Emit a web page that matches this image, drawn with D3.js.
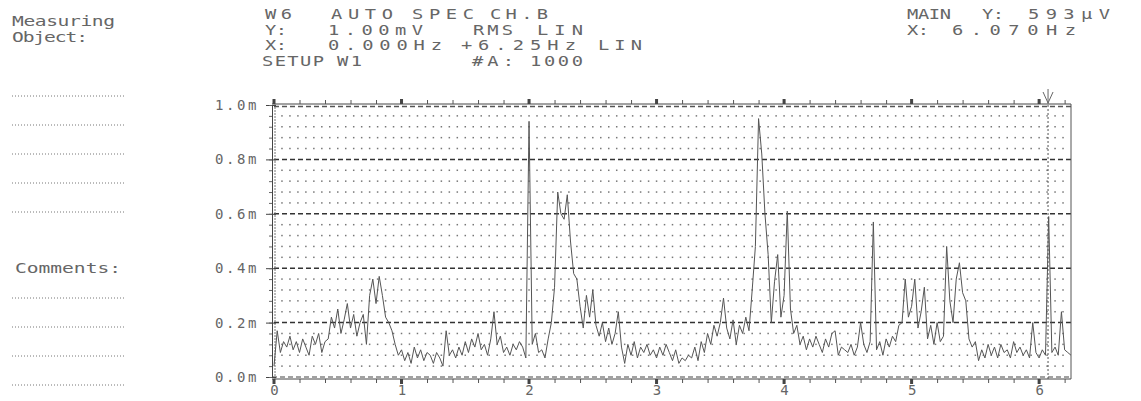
<!DOCTYPE html>
<html>
<head>
<meta charset="utf-8">
<script src="https://cdn.jsdelivr.net/npm/d3@7"></script>
<style>
  body { margin: 0; background: #fff; }
  svg { display: block; }
  text { font-family: "DejaVu Sans Mono", monospace; fill: #666; }
</style>
</head>
<body>
<div id="container"></div>
<script>
/* DATA */
// spectrum, one value every 0.025 Hz from 0 to 6.25 Hz (mV rms)
const freqStep = 0.025;
const amplitude = [
  0.04, 0.17, 0.09, 0.13, 0.11, 0.15, 0.10, 0.13, 0.09, 0.14,
  0.11, 0.08, 0.15, 0.12, 0.16, 0.09, 0.13, 0.14, 0.22, 0.18,
  0.25, 0.16, 0.21, 0.27, 0.18, 0.23, 0.15, 0.20, 0.23, 0.12,
  0.30, 0.36, 0.27, 0.37, 0.30, 0.22, 0.20, 0.17, 0.12, 0.08,
  0.10, 0.06, 0.09, 0.05, 0.11, 0.07, 0.10, 0.06, 0.09, 0.08,
  0.05, 0.09, 0.07, 0.04, 0.17, 0.08, 0.10, 0.07, 0.11, 0.08,
  0.13, 0.09, 0.14, 0.11, 0.16, 0.10, 0.12, 0.08, 0.14, 0.24,
  0.12, 0.15, 0.09, 0.11, 0.08, 0.12, 0.10, 0.13, 0.11, 0.07,
  0.94, 0.12, 0.16, 0.09, 0.10, 0.07, 0.14, 0.20, 0.33, 0.68,
  0.60, 0.58, 0.67, 0.50, 0.38, 0.36, 0.26, 0.18, 0.30, 0.22,
  0.32, 0.19, 0.15, 0.20, 0.13, 0.18, 0.12, 0.16, 0.24, 0.11,
  0.05, 0.12, 0.08, 0.13, 0.07, 0.11, 0.09, 0.12, 0.08, 0.10,
  0.07, 0.11, 0.08, 0.12, 0.09, 0.06, 0.10, 0.05, 0.07, 0.06,
  0.08, 0.07, 0.11, 0.06, 0.13, 0.09, 0.16, 0.12, 0.19, 0.15,
  0.20, 0.29, 0.18, 0.14, 0.21, 0.12, 0.19, 0.16, 0.22, 0.17,
  0.32, 0.48, 0.95, 0.82, 0.60, 0.45, 0.20, 0.35, 0.45, 0.22,
  0.30, 0.61, 0.25, 0.16, 0.19, 0.12, 0.15, 0.10, 0.14, 0.11,
  0.15, 0.12, 0.09, 0.14, 0.11, 0.16, 0.17, 0.08, 0.11, 0.10,
  0.09, 0.12, 0.08, 0.11, 0.20, 0.12, 0.09, 0.13, 0.57, 0.10,
  0.13, 0.08, 0.14, 0.11, 0.15, 0.13, 0.19, 0.20, 0.36, 0.22,
  0.26, 0.36, 0.18, 0.24, 0.33, 0.14, 0.19, 0.12, 0.20, 0.13,
  0.15, 0.48, 0.28, 0.20, 0.36, 0.42, 0.31, 0.28, 0.14, 0.11,
  0.13, 0.06, 0.10, 0.07, 0.12, 0.08, 0.11, 0.07, 0.12, 0.09,
  0.10, 0.07, 0.13, 0.09, 0.11, 0.08, 0.10, 0.07, 0.20, 0.09,
  0.07, 0.10, 0.08, 0.59, 0.09, 0.11, 0.08, 0.24, 0.10, 0.09,
  0.08
];
const yTicks = [0, 0.2, 0.4, 0.6, 0.8, 1.0];
const xTicks = [0, 1, 2, 3, 4, 5, 6];
const cursorFreq = 6.07;

// printer header, [text, x, span] per word
const headerRows = [
  [["W6", 265, 27], ["AUTO", 331, 62], ["SPEC", 412, 62], ["CH.B", 490, 58]],
  [["Y:", 265, 22], ["1.00mV", 328, 95], ["RMS", 473, 40], ["LIN", 537, 46]],
  [["X:", 265, 22], ["0.000Hz", 328, 114], ["+", 461, 10], ["6.25Hz", 478, 98], ["LIN", 598, 44]],
  [["SETUP", 262, 62], ["W1", 337, 25], ["#A:", 472, 42], ["1000", 530, 53]]
];
const mainRows = [
  [["MAIN", 907, 44], ["Y:", 982, 22], ["593\u00b5V", 1028, 82]],
  [["X:", 907, 22], ["6.070Hz", 952, 124]]
];

/* CONSTANTS */
const W = 1141, H = 401;
const plotL = 274, plotR = 1071, plotT = 105, plotB = 377;
const rowGap = 15.6;
const stretch = 1.4; // wide printer glyphs

const spectrum = amplitude.map((v, i) => ({ f: i * freqStep, v: v }));

const xScale = d3.scaleLinear().domain([0, 6.25]).range([plotL, plotR]);
const yScale = d3.scaleLinear().domain([0, 1.0]).range([plotB, plotT]);

const svg = d3.select("#container").append("svg")
  .attr("width", W).attr("height", H);

// wide text: placed by transform, fitted to a measured span
function wideText(parent, t, xx, yy, span, size) {
  return parent.append("text")
    .attr("transform", `translate(${xx},${yy}) scale(${stretch},1)`)
    .attr("textLength", span / stretch).attr("lengthAdjust", "spacing")
    .style("font-size", size + "px")
    .text(t);
}

/* LEFT FORM TEXT */
wideText(svg, "Measuring", 12, 26, 103, 14);
wideText(svg, "Object:", 12, 42, 76, 14);
wideText(svg, "Comments:", 15, 273, 106, 14);
[96, 125, 154, 183, 212, 298, 327, 356, 385].forEach(yy => {
  svg.append("line")
    .attr("x1", 12).attr("x2", 125).attr("y1", yy).attr("y2", yy)
    .attr("stroke", "#777").attr("stroke-width", 1)
    .attr("stroke-dasharray", "1,2");
});

/* HEADER */
function drawRows(rows, y0) {
  rows.forEach((row, r) => {
    row.forEach(([t, xx, span]) => wideText(svg, t, xx, y0 + r * rowGap, span, 13.4));
  });
}
drawRows(headerRows, 19);
drawRows(mainRows, 19);

/* GRID */
const g = svg.append("g");
const dotCols = d3.range(1, 100).map(k => k * 0.0625);
const dotRows = d3.range(1, 25).map(k => k * 0.04).filter(v => Math.abs(v / 0.2 - Math.round(v / 0.2)) > 0.01);
dotRows.forEach(r => {
  g.selectAll(null).data(dotCols).join("rect")
    .attr("x", d => xScale(d) - 0.75)
    .attr("y", yScale(r) - 0.75)
    .attr("width", 1.5).attr("height", 1.5)
    .attr("fill", "#777");
});
// dashed lines every 0.2
g.selectAll("line.dash").data(yTicks.filter(d => d > 0 && d < 1))
  .join("line").attr("class", "dash")
  .attr("x1", plotL).attr("x2", plotR)
  .attr("y1", d => yScale(d)).attr("y2", d => yScale(d))
  .attr("stroke", "#333").attr("stroke-width", 1.5)
  .attr("stroke-dasharray", "5,3");

/* FRAME */
// top border with dash row
svg.append("line").attr("x1", plotL - 2).attr("x2", plotR).attr("y1", plotT - 1).attr("y2", plotT - 1)
  .attr("stroke", "#444").attr("stroke-width", 1);
svg.append("line").attr("x1", plotL).attr("x2", plotR).attr("y1", plotT + 1.5).attr("y2", plotT + 1.5)
  .attr("stroke", "#555").attr("stroke-width", 1.5).attr("stroke-dasharray", "5,3");
// bottom double dashed
svg.append("line").attr("x1", plotL - 2).attr("x2", plotR).attr("y1", plotB).attr("y2", plotB)
  .attr("stroke", "#444").attr("stroke-width", 1.2).attr("stroke-dasharray", "5,3");
svg.append("line").attr("x1", plotL - 2).attr("x2", plotR).attr("y1", plotB + 2).attr("y2", plotB + 2)
  .attr("stroke", "#444").attr("stroke-width", 1);
// right border
svg.append("line").attr("x1", plotR).attr("x2", plotR).attr("y1", plotT - 1).attr("y2", plotB + 2)
  .attr("stroke", "#555").attr("stroke-width", 1);
// left double line
svg.append("line").attr("x1", plotL + 1).attr("x2", plotL + 1).attr("y1", plotT - 1).attr("y2", plotB + 2)
  .attr("stroke", "#777").attr("stroke-width", 1).attr("stroke-dasharray", "2,1");

/* AXES */
// y axis
const yAxis = svg.append("g")
  .attr("transform", `translate(${plotL - 2},0)`)
  .call(d3.axisLeft(yScale).tickValues(yTicks).tickSize(6).tickPadding(7)
    .tickFormat(d => d.toFixed(1) + "m"));
yAxis.select(".domain").attr("stroke", "#444");
yAxis.selectAll(".tick line").attr("stroke", "#444").attr("x2", 4).attr("x1", -6);
yAxis.selectAll("text").attr("fill", "#666")
  .style("font-family", "DejaVu Sans Mono").style("font-size", "14px").style("letter-spacing", "2.6px");

const yMinor = svg.append("g")
  .attr("transform", `translate(${plotL - 2},0)`)
  .call(d3.axisLeft(yScale).tickValues(d3.range(0, 26).map(k => k * 0.04)).tickSize(3).tickFormat(""));
yMinor.select(".domain").remove();
yMinor.selectAll(".tick line").attr("stroke", "#666");

// bottom axis
const minorX = d3.range(0, 32).map(k => k * 0.2).filter(d => d <= 6.25);
const xMinor = svg.append("g")
  .attr("transform", `translate(0,${plotB + 2})`)
  .call(d3.axisBottom(xScale).tickValues(minorX).tickSize(4).tickFormat(""));
xMinor.select(".domain").remove();
xMinor.selectAll(".tick line").attr("stroke", "#555");

const xAxis = svg.append("g")
  .attr("transform", `translate(0,${plotB + 2})`)
  .call(d3.axisBottom(xScale).tickValues(xTicks).tickSize(0).tickPadding(6).tickFormat(d3.format("d")));
xAxis.select(".domain").remove();
xAxis.selectAll("text").attr("fill", "#666")
  .style("font-family", "DejaVu Sans Mono").style("font-size", "14px");
svg.selectAll("rect.xmajor").data(xTicks).join("rect").attr("class", "xmajor")
  .attr("x", d => xScale(d) - 1.5).attr("y", plotB + 2).attr("width", 3).attr("height", 5)
  .attr("fill", "#444");

// top axis
const tMinor = svg.append("g")
  .attr("transform", `translate(0,${plotT - 1})`)
  .call(d3.axisTop(xScale).tickValues(minorX).tickSize(4).tickFormat(""));
tMinor.select(".domain").remove();
tMinor.selectAll(".tick line").attr("stroke", "#555");
svg.selectAll("rect.tmajor").data(xTicks).join("rect").attr("class", "tmajor")
  .attr("x", d => xScale(d) - 1.5).attr("y", plotT - 6).attr("width", 3).attr("height", 5)
  .attr("fill", "#444");

/* TRACE */
const line = d3.line().x(d => xScale(d.f)).y(d => yScale(d.v));
svg.append("path").datum(spectrum)
  .attr("d", line)
  .attr("fill", "none").attr("stroke", "#555").attr("stroke-width", 1);

/* CURSOR */
const cx = xScale(cursorFreq);
svg.append("line").attr("x1", cx).attr("x2", cx).attr("y1", plotT).attr("y2", plotB + 2)
  .attr("stroke", "#555").attr("stroke-width", 1).attr("stroke-dasharray", "2,2");
svg.append("path")
  .attr("d", `M${cx - 5},92 L${cx},103 L${cx + 5},92 M${cx},89 L${cx},104`)
  .attr("fill", "none").attr("stroke", "#666").attr("stroke-width", 1);
</script>
</body>
</html>
